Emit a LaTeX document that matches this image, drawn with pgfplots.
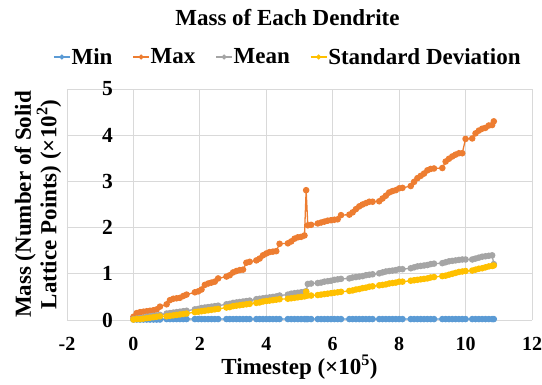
\documentclass[border=0pt]{standalone}
\usepackage{fontspec}
\setmainfont{Liberation Serif}
\usepackage{pgfplots}
\usepackage{pgfplotstable}
\pgfplotsset{compat=1.18}
\definecolor{cmin}{HTML}{5B9BD5}
\definecolor{cmax}{HTML}{ED7D31}
\definecolor{cmean}{HTML}{A5A5A5}
\definecolor{csd}{HTML}{FFC000}
\definecolor{cgrid}{HTML}{D9D9D9}

\pgfplotstableread{
x min max mean sd
0.00 0.01 0.07 0.02 0.01
0.10 0.01 0.15 0.03 0.02
0.20 0.01 0.17 0.04 0.02
0.30 0.01 0.18 0.05 0.03
0.40 0.01 0.19 0.07 0.04
0.50 0.01 0.20 0.08 0.05
0.60 0.01 0.21 0.09 0.06
0.70 0.01 0.23 0.10 0.07
0.80 0.01 0.29 0.11 0.08
1.00 0.02 0.34 0.14 0.08
1.10 0.02 0.43 0.15 0.09
1.20 0.02 0.46 0.16 0.10
1.30 0.02 0.47 0.17 0.11
1.40 0.02 0.48 0.18 0.12
1.50 0.02 0.52 0.19 0.13
1.60 0.02 0.55 0.20 0.14
1.85 0.02 0.60 0.23 0.17
1.95 0.02 0.62 0.24 0.18
2.05 0.02 0.66 0.26 0.19
2.15 0.02 0.76 0.27 0.20
2.25 0.02 0.79 0.28 0.21
2.35 0.02 0.81 0.29 0.22
2.45 0.02 0.83 0.30 0.23
2.55 0.02 0.90 0.31 0.24
2.80 0.02 0.94 0.34 0.27
2.90 0.02 0.97 0.35 0.28
3.00 0.02 1.03 0.37 0.30
3.10 0.02 1.06 0.38 0.31
3.20 0.02 1.08 0.39 0.32
3.30 0.02 1.09 0.40 0.33
3.40 0.02 1.24 0.41 0.34
3.50 0.02 1.26 0.42 0.35
3.70 0.02 1.29 0.45 0.37
3.80 0.02 1.33 0.46 0.38
3.90 0.02 1.40 0.47 0.40
4.00 0.02 1.44 0.48 0.41
4.10 0.02 1.47 0.49 0.42
4.20 0.02 1.48 0.50 0.43
4.30 0.02 1.49 0.51 0.44
4.40 0.02 1.65 0.53 0.45
4.65 0.02 1.66 0.55 0.46
4.75 0.02 1.70 0.57 0.47
4.85 0.02 1.76 0.58 0.48
4.95 0.02 1.79 0.59 0.49
5.05 0.02 1.80 0.60 0.50
5.15 0.02 1.83 0.61 0.51
5.20 0.02 2.81 0.62 0.61
5.25 0.02 2.05 0.78 0.53
5.35 0.02 2.06 0.79 0.53
5.55 0.02 2.09 0.80 0.54
5.65 0.02 2.11 0.81 0.55
5.75 0.02 2.13 0.83 0.56
5.85 0.02 2.15 0.84 0.57
5.95 0.02 2.16 0.85 0.58
6.05 0.02 2.17 0.87 0.59
6.15 0.02 2.18 0.88 0.60
6.25 0.02 2.27 0.89 0.61
6.50 0.02 2.28 0.90 0.63
6.60 0.02 2.33 0.92 0.64
6.70 0.02 2.40 0.93 0.66
6.80 0.02 2.46 0.94 0.67
6.90 0.02 2.50 0.95 0.69
7.00 0.02 2.53 0.97 0.70
7.10 0.02 2.56 0.98 0.72
7.20 0.02 2.56 0.99 0.73
7.40 0.02 2.57 1.01 0.75
7.50 0.02 2.63 1.03 0.76
7.60 0.02 2.69 1.05 0.77
7.70 0.02 2.76 1.06 0.79
7.80 0.02 2.79 1.07 0.80
7.90 0.02 2.81 1.08 0.81
8.00 0.02 2.85 1.10 0.83
8.10 0.02 2.86 1.10 0.83
8.35 0.02 2.90 1.12 0.85
8.45 0.02 2.99 1.14 0.86
8.55 0.02 3.07 1.16 0.87
8.65 0.02 3.12 1.17 0.88
8.75 0.02 3.17 1.18 0.89
8.85 0.02 3.24 1.19 0.90
8.95 0.02 3.27 1.21 0.92
9.05 0.02 3.28 1.22 0.93
9.30 0.02 3.29 1.23 0.95
9.40 0.02 3.43 1.25 0.96
9.50 0.02 3.49 1.27 0.98
9.60 0.02 3.54 1.28 1.00
9.70 0.02 3.58 1.29 1.02
9.80 0.02 3.61 1.30 1.04
9.90 0.02 3.61 1.31 1.05
10.00 0.02 3.92 1.31 1.06
10.20 0.02 3.93 1.31 1.07
10.30 0.02 4.04 1.33 1.09
10.40 0.02 4.10 1.35 1.11
10.50 0.02 4.14 1.37 1.12
10.60 0.02 4.16 1.38 1.14
10.70 0.02 4.21 1.39 1.16
10.80 0.02 4.22 1.40 1.17
10.85 0.02 4.30 1.21 1.18
}\data

\begin{document}
\begin{tikzpicture}
\useasboundingbox (0,0) rectangle (542pt,384pt);
\node[font=\fontsize{23}{27}\selectfont\bfseries, anchor=base, inner sep=0pt] at (287.5pt,358pt) {Mass of Each Dendrite};
\begin{axis}[
  at={(67pt,64pt)}, anchor=south west,
  scale only axis, width=465pt, height=231pt,
  xmin=-2, xmax=12, ymin=0, ymax=5,
  xtick={-2,0,2,4,6,8,10,12}, xticklabels={-2,0,2,4,6,8,10,12},
  ytick={0,1,2,3,4,5}, yticklabels={0,1,2,3,4,5},
  major tick length=0pt,
  grid=major, grid style={cgrid, line width=0.9pt},
  axis line style={draw=none},
  xticklabel style={font=\fontsize{20}{22}\selectfont\bfseries, anchor=north, inner sep=0pt, yshift=-17pt},
  yticklabel style={font=\fontsize{21.5}{23}\selectfont\bfseries, anchor=east, inner sep=0pt, xshift=46pt},
  xlabel={Timestep (×10\textsuperscript{5})},
  xlabel style={font=\fontsize{23}{27}\selectfont\bfseries, at={(axis description cs:0.5,0)}, anchor=base, inner sep=0pt, yshift=-54.5pt},
  ylabel={Mass (Number of Solid\\Lattice Points) (×10\textsuperscript{2})},
  ylabel style={font=\fontsize{23}{25.5}\selectfont\bfseries, align=center, at={(axis description cs:-0.0624,0.5)}, anchor=center, inner sep=0pt},
  legend columns=4,
  legend style={at={(axis description cs:-0.03,1.1385)}, anchor=west, draw=none, fill=none, inner sep=0pt,
    font=\fontsize{23}{25}\selectfont\bfseries, nodes={inner sep=1pt},
    /tikz/every even column/.append style={column sep=19pt}},
  legend image code/.code={\draw[#1, mark repeat=2, mark phase=2, mark size=1.8pt] plot coordinates {(0pt,0pt) (8pt,0pt) (16pt,0pt)};},
]
\addplot[cmin, line width=1.3pt, mark=*, mark size=2.6pt, mark options={solid, fill=cmin, draw=cmin}] table[x=x, y=min]{\data};
\addlegendentry{Min}
\addplot[cmax, line width=1.3pt, mark=*, mark size=2.6pt, mark options={solid, fill=cmax, draw=cmax}] table[x=x, y=max]{\data};
\addlegendentry{Max}
\addplot[cmean, line width=1.3pt, mark=*, mark size=2.6pt, mark options={solid, fill=cmean, draw=cmean}] table[x=x, y=mean]{\data};
\addlegendentry{Mean}
\addplot[csd, line width=1.3pt, mark=*, mark size=2.6pt, mark options={solid, fill=csd, draw=csd}] table[x=x, y=sd]{\data};
\addlegendentry{Standard Deviation}
\end{axis}
\end{tikzpicture}
\end{document}
